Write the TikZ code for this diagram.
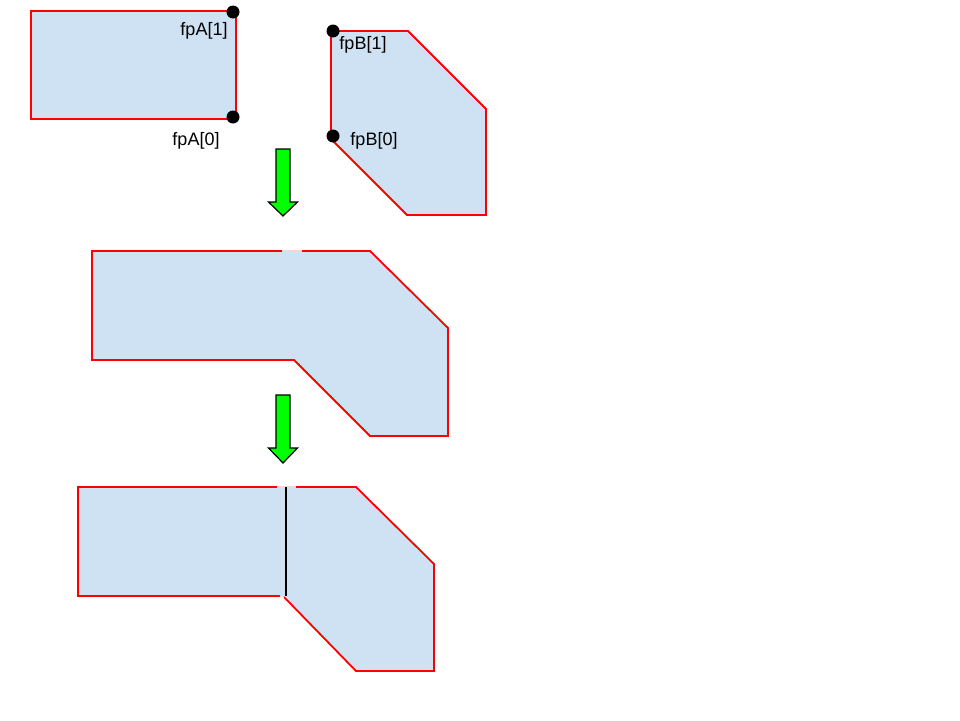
\documentclass[tikz,border=0pt]{standalone}
\usepackage{fontspec}
\setmainfont{Liberation Sans}
\definecolor{shapefill}{HTML}{CFE2F3}
\definecolor{edgered}{HTML}{FF0000}
\definecolor{arrowgreen}{HTML}{00FF00}
\definecolor{seam}{HTML}{F4D6DA}
\begin{document}
\begin{tikzpicture}[x=1pt,y=-1pt,
  shapebody/.style={fill=shapefill,draw=none},
  redge/.style={draw=edgered,line width=1.8pt,line join=miter},
  seamedge/.style={draw=seam,line width=1.8pt},
  fatarrow/.style={fill=arrowgreen,draw=black,line width=1.2pt,line join=miter},
  portdot/.style={circle,fill=black,inner sep=0pt,minimum size=13pt},
  portlabel/.style={inner sep=0pt,font=\fontsize{18}{21}\selectfont}]
\useasboundingbox (0,0) rectangle (960,720);
\fill[white] (0,0) rectangle (960,720);

% --- shape A
\path[shapebody,redge] (31,11) -- (236,11) -- (236,119) -- (31,119) -- cycle;
\node[portdot] (a1) at (233,12) {};
\node[portdot] (a0) at (233,117) {};
\node[portlabel] (la1) at (204,31) {fpA[1]};
\node[portlabel] (la0) at (196,141) {fpA[0]};

% --- shape B
\path[shapebody,redge] (331,31) -- (408,31) -- (486,109) -- (486,215) -- (407,215) -- (331,139) -- cycle;
\node[portdot] (b1) at (333,31) {};
\node[portdot] (b0) at (333,136) {};
\node[portlabel] (lb1) at (363,45) {fpB[1]};
\node[portlabel] (lb0) at (374,141) {fpB[0]};

% --- arrow 1
\path[fatarrow] (276,149) -- (290,149) -- (290,202) -- (297.5,202) -- (283,216) -- (268.5,202) -- (276,202) -- cycle;

% --- merged shape
\path[shapebody] (92,251) -- (370,251) -- (448,328) -- (448,436) -- (370,436) -- (295,360) -- (92,360) -- cycle;
\draw[redge] (282,251) -- (92,251) -- (92,360) -- (294,360) -- (370,436) -- (448,436) -- (448,328) -- (370,251) -- (302,251);
\draw[seamedge] (282,251) -- (302,251);

% --- arrow 2
\path[fatarrow] (276,395) -- (290,395) -- (290,448) -- (297.5,448) -- (283,463) -- (268.5,448) -- (276,448) -- cycle;

% --- split shape
\path[shapebody] (78,487) -- (356,487) -- (434,564) -- (434,671) -- (356,671) -- (282,596) -- (78,596) -- cycle;
\draw[redge] (277,487) -- (78,487) -- (78,596) -- (280,596);
\draw[redge] (284,597) -- (356,671) -- (434,671) -- (434,564) -- (356,487) -- (296,487);
\draw[seamedge] (277,487) -- (296,487);
\draw[seamedge] (280,596) -- (284,597);
\coordinate (cuttop) at (286,487);
\coordinate (cutbot) at (286,596);
\draw[black,line width=1.6pt] (cuttop) -- (cutbot);
\end{tikzpicture}
\end{document}
